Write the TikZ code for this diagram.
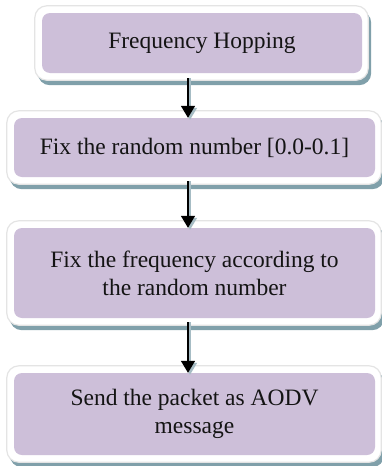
\documentclass[tikz,border=0pt]{standalone}
\usepackage{fontspec}
\setmainfont{Liberation Serif}
\usetikzlibrary{arrows.meta,calc}
\pgfdeclarelayer{paper}
\pgfdeclarelayer{frames}
\pgfsetlayers{paper,frames,main}
\definecolor{boxfill}{RGB}{205,191,217}
\definecolor{shadowc}{RGB}{128,160,170}
\definecolor{rimc}{RGB}{228,228,228}
\newcommand{\myframe}[1]{%
  \begin{pgfonlayer}{frames}
    \fill[shadowc,rounded corners=12pt] ($(#1.north west)+(-4,2)$) rectangle ($(#1.south east)+(9,-12)$);
    \draw[rimc,fill=white,line width=1.2pt,rounded corners=12pt] ($(#1.north west)+(-7,7)$) rectangle ($(#1.south east)+(6,-7)$);
  \end{pgfonlayer}}
\begin{document}
\begin{tikzpicture}[x=1pt,y=1pt,
  flowbox/.style={rectangle,rounded corners=8pt,fill=boxfill,inner sep=0pt,align=center,
    font=\fontsize{23.5}{28}\selectfont,text=black!92},
  arr/.style={line width=1.6pt,-{Triangle[width=14pt,length=12pt]}},
  arrsh/.style={line width=1.6pt,shadowc!70,-{Triangle[width=14pt,length=12pt]}}]
\useasboundingbox (0,0) rectangle (381,-466);
\begin{pgfonlayer}{paper}
\fill[white] (0,0) rectangle (381,-466);
\end{pgfonlayer}
\node[flowbox,minimum width=320pt,minimum height=60pt] (b1) at (202,-43) {Frequency Hopping};
\node[flowbox,minimum width=361pt,minimum height=59pt] (b2) at (194.5,-147.5) {Fix the random number [0.0-0.1]};
\node[flowbox,minimum width=361pt,minimum height=90pt] (b3) at (194.5,-273) {Fix the frequency according to\\the random number};
\node[flowbox,minimum width=361pt,minimum height=82pt] (b4) at (194.5,-414) {Send the packet as AODV\\message};
\myframe{b1}\myframe{b2}\myframe{b3}\myframe{b4}
\coordinate (ax) at (188,0);
\coordinate (ash) at (190,0);
\foreach \s/\t/\o in {b1/b2/5,b2/b3/4,b3/b4/4}{
  \draw[arrsh] ([yshift=-\o pt]\s.south -| ash) -- ([yshift=-2pt]\t.north -| ash);
  \draw[arr] ([yshift=-\o pt]\s.south -| ax) -- (\t.north -| ax);
}
\end{tikzpicture}
\end{document}
